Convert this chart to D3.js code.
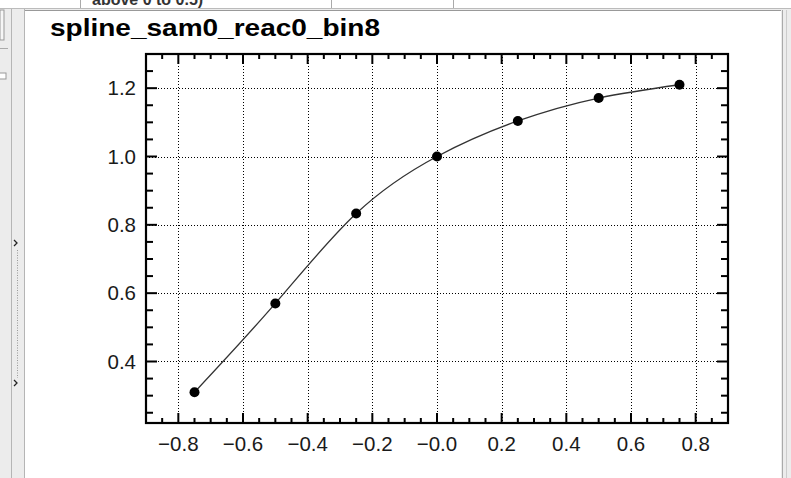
<!DOCTYPE html>
<html>
<head>
<meta charset="utf-8">
<script src="https://cdn.jsdelivr.net/npm/d3@7"></script>
<style>
  html, body { margin: 0; padding: 0; background: #ececec; }
  svg { display: block; font-family: "Liberation Sans", Arial, sans-serif; }
</style>
</head>
<body>
<div id="chart"></div>
<script>
// spline knots
const knotX = [-0.75, -0.5, -0.25, 0.0, 0.25, 0.5, 0.75];
const knotY = [0.31, 0.57, 0.833, 1.0, 1.104, 1.171, 1.21];

const xTicks = [-0.8, -0.6, -0.4, -0.2, 0.0, 0.2, 0.4, 0.6, 0.8];
const xTickLabels = ['\u22120.8', '\u22120.6', '\u22120.4', '\u22120.2', '\u22120.0', '0.2', '0.4', '0.6', '0.8'];
const yTicks = [0.4, 0.6, 0.8, 1.0, 1.2];
const yTickLabels = ['0.4', '0.6', '0.8', '1.0', '1.2'];
const xDomain = [-0.9, 0.9];
const yDomain = [0.22, 1.30];
const title = 'spline_sam0_reac0_bin8';

const W = 791, H = 478;
const frame = { left: 146, right: 728, top: 54, bottom: 423 };

const svg = d3.select('#chart').append('svg')
  .attr('width', W)
  .attr('height', H);

// --- window chrome around the canvas (rough) ---
svg.append('rect').attr('x', 0).attr('y', 0).attr('width', W).attr('height', H).attr('fill', '#ececec');
// top table row, mostly scrolled out of view
svg.append('rect').attr('x', 0).attr('y', 0).attr('width', W).attr('height', 8).attr('fill', '#fff');
svg.append('text').attr('x', 92).attr('y', 5).attr('font-size', 16).attr('font-weight', 'bold')
  .attr('fill', '#333').text('above 0 to 0.5)');
svg.append('line').attr('x1', 0).attr('x2', W).attr('y1', 8.5).attr('y2', 8.5).attr('stroke', '#bbb');
[80, 331, 453].forEach(x => {
  svg.append('line').attr('x1', x + 0.5).attr('x2', x + 0.5).attr('y1', 0).attr('y2', 8)
    .attr('stroke', '#aaa');
});
// left side panel
svg.append('rect').attr('x', 0).attr('y', 10).attr('width', 4).attr('height', 30)
  .attr('fill', '#f6f6f6').attr('stroke', '#999');
svg.append('line').attr('x1', 0).attr('x2', 8).attr('y1', 48.5).attr('y2', 48.5).attr('stroke', '#aaa');
svg.append('rect').attr('x', -2).attr('y', 73).attr('width', 8).attr('height', 6)
  .attr('fill', '#fff').attr('stroke', '#999');
svg.append('line').attr('x1', 11.5).attr('x2', 11.5).attr('y1', 9).attr('y2', H).attr('stroke', '#b5b5b5');
svg.append('line').attr('x1', 24.5).attr('x2', 24.5).attr('y1', 9).attr('y2', H).attr('stroke', '#b5b5b5');
svg.append('line').attr('x1', 17.5).attr('x2', 17.5).attr('y1', 250).attr('y2', 378)
  .attr('stroke', '#999').attr('stroke-dasharray', '1,1.5');
[243, 383].forEach(y => {
  svg.append('path').attr('d', `M14,${y - 3} L17,${y} L14,${y + 3}`)
    .attr('fill', 'none').attr('stroke', '#222').attr('stroke-width', 1.3);
});
// canvas area
svg.append('rect').attr('x', 25).attr('y', 10).attr('width', 756).attr('height', H - 10).attr('fill', '#fff');
svg.append('line').attr('x1', 25).attr('x2', 781).attr('y1', 10.5).attr('y2', 10.5).attr('stroke', '#999');
svg.append('line').attr('x1', 782.5).attr('x2', 782.5).attr('y1', 10).attr('y2', H).attr('stroke', '#aaa');
svg.append('line').attr('x1', 786.5).attr('x2', 786.5).attr('y1', 10).attr('y2', H).attr('stroke', '#ccc');

// --- plot ---
const x = d3.scaleLinear().domain(xDomain).range([frame.left, frame.right]);
const y = d3.scaleLinear().domain(yDomain).range([frame.bottom, frame.top]);

const g = svg.append('g');

// dotted grid at major ticks
g.selectAll('.gx').data(xTicks).join('line')
  .attr('x1', d => Math.round(x(d)) + 0.5).attr('x2', d => Math.round(x(d)) + 0.5)
  .attr('y1', frame.top).attr('y2', frame.bottom)
  .attr('stroke', '#000').attr('stroke-width', 1).attr('stroke-dasharray', '1,2');
g.selectAll('.gy').data(yTicks).join('line')
  .attr('y1', d => Math.round(y(d)) + 0.5).attr('y2', d => Math.round(y(d)) + 0.5)
  .attr('x1', frame.left).attr('x2', frame.right)
  .attr('stroke', '#000').attr('stroke-width', 1).attr('stroke-dasharray', '1,2');

// ticks on all four sides
const xMinor = d3.range(-0.85, 0.9, 0.05).filter(v => !xTicks.some(t => Math.abs(t - v) < 1e-6));
const yMinor = d3.range(0.25, 1.30, 0.05).filter(v => !yTicks.some(t => Math.abs(t - v) < 1e-6));

function xTickMarks(vals, len) {
  [[frame.bottom, -1], [frame.top, 1]].forEach(([y0, dir]) => {
    g.append('g').selectAll('line').data(vals).join('line')
      .attr('x1', d => x(d)).attr('x2', d => x(d))
      .attr('y1', y0).attr('y2', y0 + dir * len)
      .attr('stroke', '#000').attr('stroke-width', 2);
  });
}
function yTickMarks(vals, len) {
  [[frame.left, 1], [frame.right, -1]].forEach(([x0, dir]) => {
    g.append('g').selectAll('line').data(vals).join('line')
      .attr('y1', d => y(d)).attr('y2', d => y(d))
      .attr('x1', x0).attr('x2', x0 + dir * len)
      .attr('stroke', '#000').attr('stroke-width', 2);
  });
}
xTickMarks(xTicks, 10);
xTickMarks(xMinor, 5);
yTickMarks(yTicks, 11);
yTickMarks(yMinor, 7);

// frame
g.append('rect')
  .attr('x', frame.left).attr('y', frame.top)
  .attr('width', frame.right - frame.left).attr('height', frame.bottom - frame.top)
  .attr('fill', 'none').attr('stroke', '#000').attr('stroke-width', 2.2);

// tick labels
g.selectAll('.xl').data(xTicks).join('text')
  .attr('x', d => x(d)).attr('y', 451)
  .attr('text-anchor', 'middle').attr('font-size', 20.5).attr('fill', '#1a1a1a')
  .text((d, i) => xTickLabels[i]);
g.selectAll('.yl').data(yTicks).join('text')
  .attr('x', 136).attr('y', d => y(d) + 7)
  .attr('text-anchor', 'end').attr('font-size', 20.5).attr('fill', '#1a1a1a')
  .text((d, i) => yTickLabels[i]);

// spline through the knots
const pts = knotX.map((v, i) => [v, knotY[i]]);
g.append('path')
  .datum(pts)
  .attr('d', d3.line().x(d => x(d[0])).y(d => y(d[1])).curve(d3.curveNatural))
  .attr('fill', 'none').attr('stroke', '#333').attr('stroke-width', 1.3);

g.selectAll('.pt').data(pts).join('circle')
  .attr('cx', d => x(d[0])).attr('cy', d => y(d[1])).attr('r', 5)
  .attr('fill', '#000');

// title
svg.append('text')
  .attr('x', 50).attr('y', 36)
  .attr('font-size', 23).attr('font-weight', 'bold').attr('fill', '#000')
  .attr('textLength', 330).attr('lengthAdjust', 'spacingAndGlyphs')
  .text(title);
</script>
</body>
</html>
